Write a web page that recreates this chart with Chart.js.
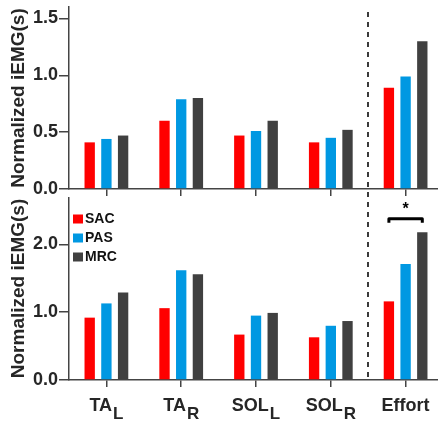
<!DOCTYPE html>
<html>
<head>
<meta charset="utf-8">
<script src="https://cdn.jsdelivr.net/npm/chart.js@4"></script>
<style>
  html, body { margin: 0; padding: 0; background: #fff; overflow: hidden; }
  #wrap { position: relative; width: 443px; height: 421px; }
  #topChart { position: absolute; left: 0; top: 0; }
  #botChart { position: absolute; left: 0; top: 197px; }
</style>
</head>
<body>
<div id="wrap">
  <canvas id="topChart" width="443" height="197"></canvas>
  <canvas id="botChart" width="443" height="224"></canvas>
</div>
<script>
// categories (base text + subscript)
const categories = ['TA_L', 'TA_R', 'SOL_L', 'SOL_R', 'Effort'];
const labelBase = ['TA', 'TA', 'SOL', 'SOL', 'Effort'];
const labelSub = ['L', 'R', 'L', 'R', ''];

const seriesNames = ['SAC', 'PAS', 'MRC'];
const seriesColors = ['#ff0000', '#0098e2', '#404040'];

// top panel values
const topSAC = [0.41, 0.60, 0.47, 0.41, 0.89];
const topPAS = [0.44, 0.79, 0.51, 0.45, 0.99];
const topMRC = [0.47, 0.80, 0.60, 0.52, 1.30];

// bottom panel values
const botSAC = [0.92, 1.06, 0.67, 0.63, 1.16];
const botPAS = [1.13, 1.62, 0.95, 0.80, 1.71];
const botMRC = [1.29, 1.56, 0.99, 0.87, 2.18];

const topTicks = [0, 0.5, 1.0, 1.5];
const botTicks = [0, 1.0, 2.0];
const topMax = 1.6;
const botMax = 2.7;

const yTitle = 'Normalized iEMG(s)';

// significance bracket in bottom panel: Effort, SAC vs MRC
const sigCategory = 4;
const sigFrom = 0;
const sigTo = 2;
const sigLevel = 2.38;
const sigStarLevel = 2.56;

const textColor = '#262626';
const axisColor = '#444';
const FONT = "'Liberation Sans', Arial, sans-serif";

const decoPlugin = {
    id: 'deco',
    beforeDatasetsDraw(chart, args, opts) {
        const ctx = chart.ctx;
        const x = chart.scales.x;
        const xd = Math.round(x.getPixelForValue(3.5));
        ctx.save();
        ctx.strokeStyle = '#3a3a3a';
        ctx.lineWidth = 2;
        ctx.setLineDash([5, 5]);
        ctx.beginPath();
        ctx.moveTo(xd, opts.dashTop);
        ctx.lineTo(xd, opts.dashBottom === 'axis' ? chart.chartArea.bottom : chart.height);
        ctx.stroke();
        ctx.restore();
    },
    afterDraw(chart, args, opts) {
        const ctx = chart.ctx;
        const area = chart.chartArea;
        ctx.save();
        if (opts.legend) {
            chart.data.datasets.forEach((ds, i) => {
                const y = 22 + i * 19;
                ctx.fillStyle = ds.backgroundColor;
                ctx.fillRect(area.left + 4, y - 4.5, 10, 9);
                ctx.fillStyle = '#111';
                ctx.font = 'bold 14px ' + FONT;
                ctx.textBaseline = 'middle';
                ctx.textAlign = 'left';
                ctx.fillText(ds.label, area.left + 16, y + 0.5);
            });
        }
        if (opts.sig) {
            const y = chart.scales.y;
            const x1 = chart.getDatasetMeta(sigFrom).data[sigCategory].x;
            const x2 = chart.getDatasetMeta(sigTo).data[sigCategory].x;
            const yb = y.getPixelForValue(sigLevel);
            ctx.strokeStyle = '#000';
            ctx.lineWidth = 3;
            ctx.lineJoin = 'round';
            ctx.beginPath();
            ctx.moveTo(x1, yb + 4);
            ctx.lineTo(x1, yb);
            ctx.lineTo(x2, yb);
            ctx.lineTo(x2, yb + 4);
            ctx.stroke();
            ctx.fillStyle = '#000';
            ctx.font = 'bold 16px ' + FONT;
            ctx.textAlign = 'center';
            ctx.textBaseline = 'middle';
            ctx.fillText('*', (x1 + x2) / 2, y.getPixelForValue(sigStarLevel) + 3);
        }
        if (opts.xlabels) {
            const x = chart.scales.x;
            const mainFont = 'bold 18px ' + FONT;
            const subFont = 'bold 17px ' + FONT;
            ctx.fillStyle = textColor;
            ctx.textBaseline = 'alphabetic';
            ctx.textAlign = 'left';
            labelBase.forEach((base, i) => {
                const sub = labelSub[i];
                ctx.font = mainFont;
                const wb = ctx.measureText(base).width;
                ctx.font = subFont;
                const ws = sub ? ctx.measureText(sub).width + 1 : 0;
                const cx = x.getPixelForValue(i);
                const left = cx - (wb + ws) / 2;
                const baseY = area.bottom + 31;
                ctx.font = mainFont;
                ctx.fillText(base, left, baseY);
                if (sub) {
                    ctx.font = subFont;
                    ctx.fillText(sub, left + wb + 1, baseY + 8);
                }
            });
        }
        ctx.restore();
    }
};

function makeChart(id, values, ticks, maxVal, xHeight, padTop, deco) {
    const ctx = document.getElementById(id).getContext('2d');
    return new Chart(ctx, {
        type: 'bar',
        data: {
            labels: categories,
            datasets: values.map((vals, i) => ({
                label: seriesNames[i],
                data: vals,
                backgroundColor: seriesColors[i],
                borderWidth: 0,
                categoryPercentage: 0.67,
                barPercentage: 0.62
            }))
        },
        options: {
            responsive: false,
            animation: false,
            layout: { padding: { top: padTop, left: 0, right: 0, bottom: 0 } },
            plugins: {
                legend: { display: false },
                tooltip: { enabled: false },
                deco: deco
            },
            scales: {
                x: {
                    offset: true,
                    grid: { display: true, drawOnChartArea: false, drawTicks: true, tickLength: 7, offset: false, color: axisColor, lineWidth: 1.5 },
                    border: { display: true, color: axisColor, width: 1.5 },
                    ticks: { display: false },
                    afterFit(scale) { scale.height = xHeight; scale.paddingLeft = 0; scale.paddingRight = 0; }
                },
                y: {
                    min: 0,
                    max: maxVal,
                    grid: { display: true, drawOnChartArea: false, drawTicks: true, tickLength: 10, color: axisColor, lineWidth: 1.5 },
                    border: { display: true, color: axisColor, width: 1.5 },
                    ticks: {
                        color: textColor,
                        padding: 1,
                        font: { family: FONT, size: 18, weight: 'bold' },
                        callback: v => v.toFixed(1)
                    },
                    afterBuildTicks(scale) { scale.ticks = ticks.map(v => ({ value: v })); },
                    title: {
                        display: true,
                        text: yTitle,
                        color: textColor,
                        font: { family: FONT, size: 19, weight: 'bold' },
                        padding: { top: 7, bottom: 0 }
                    },
                    afterFit(scale) { scale.width = 69; scale.paddingTop = 0; scale.paddingBottom = 0; }
                }
            }
        },
        plugins: [decoPlugin]
    });
}

makeChart('topChart', [topSAC, topPAS, topMRC], topTicks, topMax, 8, 7,
    { dashTop: 12, dashBottom: 'canvas', legend: false, sig: false, xlabels: false });
makeChart('botChart', [botSAC, botPAS, botMRC], botTicks, botMax, 41, 0,
    { dashTop: -185, dashBottom: 'axis', legend: true, sig: true, xlabels: true });
</script>
</body>
</html>
